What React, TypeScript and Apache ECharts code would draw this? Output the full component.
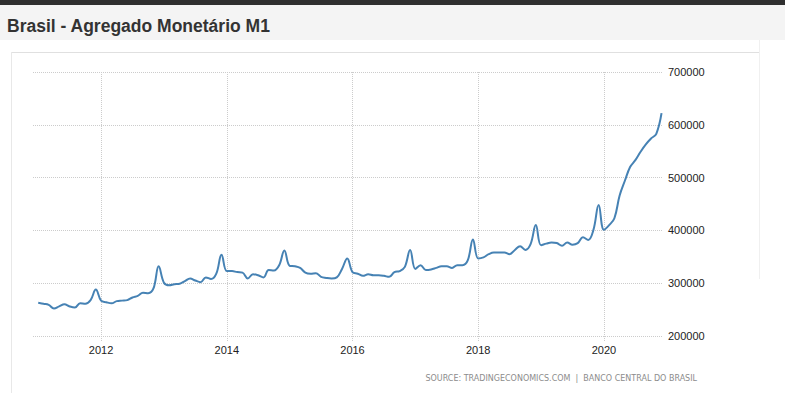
import React, { useEffect, useRef } from "react";
import * as echarts from "echarts";

const startYear = 2011;
const m1_2011 = [263000, 261000, 259000, 252000, 256000, 260000, 256000, 254000, 262000, 261000, 268000, 288000];
const m1_2012 = [267000, 264000, 262000, 266000, 267000, 268000, 273000, 276000, 282000, 281000, 290000, 332000];
const m1_2013 = [301000, 296000, 298000, 299000, 304000, 309000, 305000, 302000, 311000, 308000, 318000, 354000];
const m1_2014 = [323000, 323000, 321000, 320000, 309000, 317000, 315000, 311000, 325000, 324000, 334000, 362000];
const m1_2015 = [333000, 332000, 329000, 320000, 318000, 319000, 312000, 310000, 309000, 311000, 327000, 347000];
const m1_2016 = [321000, 318000, 314000, 317000, 315000, 315000, 314000, 312000, 321000, 323000, 331000, 363000];
const m1_2017 = [327000, 334000, 325000, 326000, 329000, 332000, 332000, 329000, 334000, 334000, 343000, 383000];
const m1_2018 = [347000, 349000, 355000, 358000, 358000, 358000, 355000, 363000, 370000, 363000, 374000, 410000];
const m1_2019 = [372000, 375000, 377000, 376000, 371000, 377000, 373000, 376000, 387000, 382000, 401000, 448000];
const m1_2020 = [401000, 410000, 423000, 466000, 494000, 520000, 533000, 549000, 563000, 574000, 583000, 622000];

const yearlyValues = [m1_2011, m1_2012, m1_2013, m1_2014, m1_2015, m1_2016, m1_2017, m1_2018, m1_2019, m1_2020];
const xTickLabels = [2012, 2014, 2016, 2018, 2020];
const yMin = 200000;
const yMax = 700000;
const yStep = 100000;

const titleText = "Brasil - Agregado Monetário M1";
const sourceText = "SOURCE: TRADINGECONOMICS.COM  |  BANCO CENTRAL DO BRASIL";

export default function App() {
  const ref = useRef<HTMLDivElement>(null);

  useEffect(() => {
    if (!ref.current) return;
    const chart = echarts.init(ref.current, null, { renderer: "svg" });

    const seriesData: [number, number][] = [];
    yearlyValues.forEach((vals, yi) => {
      vals.forEach((v, mi) => {
        seriesData.push([startYear + yi + mi / 12, v]);
      });
    });

    const font = 'Arial, "Liberation Sans", sans-serif';

    chart.setOption({
      animation: false,
      backgroundColor: "#ffffff",
      title: {
        text: titleText,
        left: 2,
        top: 12,
        textStyle: {
          fontFamily: font,
          fontSize: 17.5,
          fontWeight: "bold",
          color: "#333333",
        },
      },
      graphic: [
        { type: "rect", shape: { x: 0, y: 0, width: 785, height: 5 }, style: { fill: "#2f2f2f" }, z: -10 },
        { type: "rect", shape: { x: 0, y: 5, width: 785, height: 35 }, style: { fill: "#f4f4f4" }, z: -10 },
        { type: "line", shape: { x1: 11, y1: 52.5, x2: 759, y2: 52.5 }, style: { stroke: "#e0e0e0", lineWidth: 1 }, z: -9 },
        { type: "line", shape: { x1: 11.5, y1: 52, x2: 11.5, y2: 393 }, style: { stroke: "#e8e8e8", lineWidth: 1 }, z: -9 },
        { type: "line", shape: { x1: 759.5, y1: 40, x2: 759.5, y2: 279 }, style: { stroke: "#f0f0f0", lineWidth: 1 }, z: -9 },
        {
          type: "text",
          x: 697,
          y: 374,
          style: {
            text: sourceText,
            textAlign: "right",
            fontFamily: '"DejaVu Sans", Verdana, sans-serif',
            fontSize: 8,
            fill: "#8c8c8c",
          },
        },
      ],
      grid: { left: 33, right: 122, top: 72, bottom: 57 },
      xAxis: {
        type: "value",
        min: 2010.917,
        max: 2020.94,
        axisLine: { show: false },
        axisTick: {
          show: true,
          customValues: xTickLabels,
          length: 6,
          lineStyle: { color: "#cccccc", type: "dotted" },
        },
        axisLabel: {
          customValues: xTickLabels,
          formatter: (v: number) => String(Math.round(v)),
          color: "#222222",
          fontSize: 11,
          fontFamily: font,
          margin: 8,
        },
        splitLine: {
          show: true,
          lineStyle: { color: "#cccccc", type: "dotted" },
        },
      },
      yAxis: {
        type: "value",
        position: "right",
        min: yMin,
        max: yMax,
        interval: yStep,
        axisLine: { show: false },
        axisTick: { show: false },
        axisLabel: {
          color: "#222222",
          fontSize: 11,
          fontFamily: font,
          margin: 5,
          formatter: (v: number) => String(v),
        },
        splitLine: {
          show: true,
          lineStyle: { color: "#cccccc", type: "dotted" },
        },
      },
      series: [
        {
          type: "line",
          data: seriesData,
          smooth: 0.4,
          symbol: "none",
          lineStyle: { color: "#4682b4", width: 2 },
        },
      ],
    });

    return () => {
      chart.dispose();
    };
  }, []);

  return (
    <div
      ref={ref}
      style={{ position: "fixed", left: 0, top: 0, width: 785, height: 393, background: "#fff" }}
    />
  );
}
